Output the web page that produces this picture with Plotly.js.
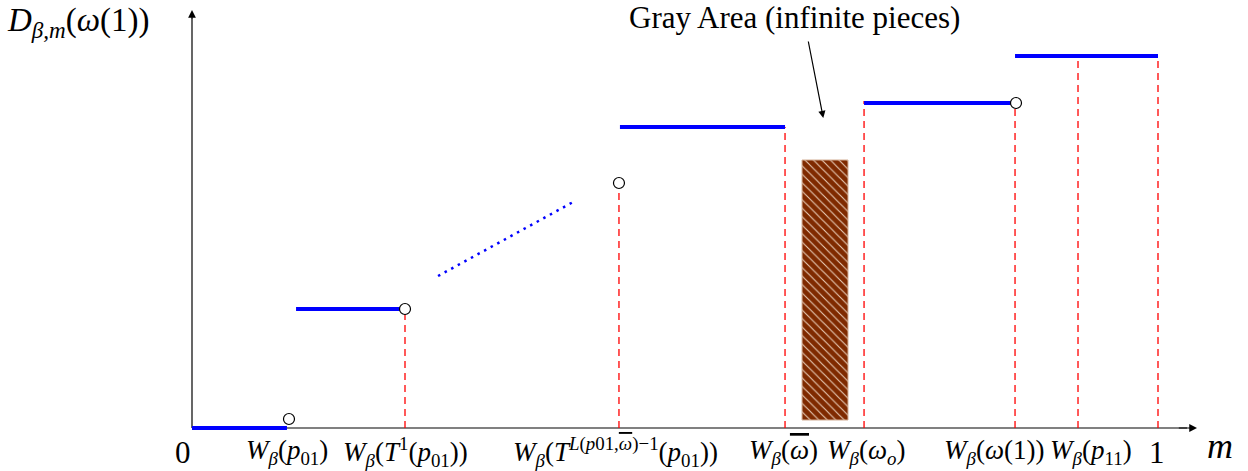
<!DOCTYPE html>
<html>
<head>
<meta charset="utf-8">
<script src="https://cdn.plot.ly/plotly-3.0.1.min.js"></script>
<style>html,body{margin:0;padding:0;background:#fff;}#chart{width:1248px;height:471px;}</style>
</head>
<body>
<div id="chart"></div>
<script>
// horizontal step segments: start m, end m, level D
const segStart = [0.0, 0.1077, 0.4430, 0.6957, 0.8520];
const segEnd   = [0.0983, 0.2205, 0.6139, 0.8520, 1.0];
const segLevel = [0.0, 1.19, 3.01, 3.25, 3.72];

// dotted transition line
const dotM = [0.2547, 0.3965];
const dotD = [1.52, 2.27];

// open circles
const circM = [0.1004, 0.2205, 0.4420, 0.8530];
const circD = [0.09, 1.19, 2.45, 3.25];

// red dashed drop lines
const dropM = [0.2205, 0.4420, 0.6139, 0.6957, 0.8520, 0.9172, 1.0];
const dropTop = [1.19, 2.45, 3.01, 3.27, 3.25, 3.72, 3.72];

// gray area block
const grayCenter = [0.6553];
const grayWidth = [0.0476];
const grayBase = [0.08];
const grayHeight = [2.60];

// x tick labels
const OMEGABAR = '<span style="text-decoration:overline"><i>ω</i></span>';
const tickPos = [-0.0093, 0.0983, 0.2205, 0.4379, 0.6118, 0.6977, 0.8307, 0.9307, 0.9990];
const tickLabels = [
  '<span style="font-size:31px">0</span>',
  '<i>W</i><sub><i>β</i></sub>(<i>p</i><sub>01</sub>)',
  '<i>W</i><sub><i>β</i></sub>(<i>T</i><sup>1</sup>(<i>p</i><sub>01</sub>))',
  '<i>W</i><sub><i>β</i></sub>(<i>T</i><sup><i>L</i>(<i>p</i>01,' + OMEGABAR + ')−1</sup>(<i>p</i><sub>01</sub>))',
  '<i>W</i><sub><i>β</i></sub>(' + OMEGABAR + ')',
  '<i>W</i><sub><i>β</i></sub>(<i>ω</i><sub><i>o</i></sub>)',
  '<i>W</i><sub><i>β</i></sub>(<i>ω</i>(1))',
  '<i>W</i><sub><i>β</i></sub>(<i>p</i><sub>11</sub>)',
  '<span style="font-size:31px">1</span>'
];

const FONT = 'Liberation Serif';
const traces = [];

// red dashed drops
for (let i = 0; i < dropM.length; i++) {
  traces.push({x:[dropM[i], dropM[i]], y:[0, dropTop[i]], mode:'lines', type:'scatter',
    line:{color:'#ff0000', width:1.3, dash:'7px,5px'}, hoverinfo:'skip', showlegend:false});
}
// gray area
traces.push({type:'bar', x:grayCenter, y:grayHeight, base:grayBase, width:grayWidth,
  marker:{color:'#7f2a00', line:{color:'#d2ae95', width:1},
    pattern:{shape:'\\', fgcolor:'#e9cdb8', bgcolor:'#7f2a00', size:6, solidity:0.18}},
  hoverinfo:'skip', showlegend:false});
// step segments
for (let i = 0; i < segStart.length; i++) {
  traces.push({x:[segStart[i], segEnd[i]], y:[segLevel[i], segLevel[i]], mode:'lines', type:'scatter',
    line:{color:'#0000ff', width:4}, hoverinfo:'skip', showlegend:false});
}
// dotted
traces.push({x:dotM, y:dotD, mode:'lines', type:'scatter', line:{color:'#0000ff', width:2.5, dash:'2.5px,5px'},
  hoverinfo:'skip', showlegend:false});
// circles
traces.push({x:circM, y:circD, mode:'markers', type:'scatter',
  marker:{symbol:'circle', size:11, color:'#ffffff', line:{color:'#000000', width:1.2}},
  hoverinfo:'skip', showlegend:false, cliponaxis:false});

const annotations = [
  {x:1.0404, y:0, ax:1.02, ay:0, xref:'x', yref:'y', axref:'x', ayref:'y', text:'', showarrow:true,
    arrowhead:2, arrowsize:1.3, arrowwidth:1.2, arrowcolor:'#000'},
  {x:0, y:4.18, ax:0, ay:4.08, xref:'x', yref:'y', axref:'x', ayref:'y', text:'', showarrow:true,
    arrowhead:2, arrowsize:1.3, arrowwidth:1.2, arrowcolor:'#000'},
  {x:-0.1180, y:4.06, xref:'x', yref:'y', showarrow:false,
    text:'<i>D</i><sub><i>β,m</i></sub>(<i>ω</i>(1))', font:{family:FONT, size:33, color:'#000'}},
  {x:1.0642, y:-0.018, xref:'x', yref:'paper', yanchor:'middle', showarrow:false, text:'<i>m</i>',
    font:{family:FONT, size:36, color:'#000'}},
  {x:0.6232, y:4.11, xref:'x', yref:'y', showarrow:false, text:'Gray Area (infinite pieces)',
    font:{family:FONT, size:31, color:'#000'}},
  {x:0.6535, y:3.10, ax:0.6377, ay:3.88, xref:'x', yref:'y', axref:'x', ayref:'y', text:'', showarrow:true,
    arrowhead:2, arrowsize:1.2, arrowwidth:1.2, arrowcolor:'#000'}
];
for (let i = 0; i < tickPos.length; i++) {
  annotations.push({x:tickPos[i], y:-0.032, xref:'x', yref:'paper', yanchor:'middle', xanchor:'center',
    showarrow:false, text:tickLabels[i], font:{family:FONT, size:27, color:'#000'}});
}

const layout = {
  width:1248, height:471,
  margin:{l:0, r:0, t:0, b:33},
  paper_bgcolor:'#ffffff', plot_bgcolor:'#ffffff',
  showlegend:false, bargap:0,
  xaxis:{range:[-0.19876, 1.09317], showgrid:false, zeroline:false, showline:false, showticklabels:false, fixedrange:true},
  yaxis:{range:[-0.10, 4.28], showgrid:false, zeroline:false, showline:false, showticklabels:false, fixedrange:true},
  shapes:[
    {type:'line', xref:'x', yref:'y', x0:0, x1:1.03, y0:0, y1:0, line:{color:'#808080', width:2}, layer:'below'},
    {type:'line', xref:'x', yref:'y', x0:0, x1:0, y0:0, y1:4.1, line:{color:'#000000', width:1.2}, layer:'below'}
  ],
  annotations:annotations
};

Plotly.newPlot('chart', traces, layout, {staticPlot:true, displayModeBar:false});
</script>
</body>
</html>
